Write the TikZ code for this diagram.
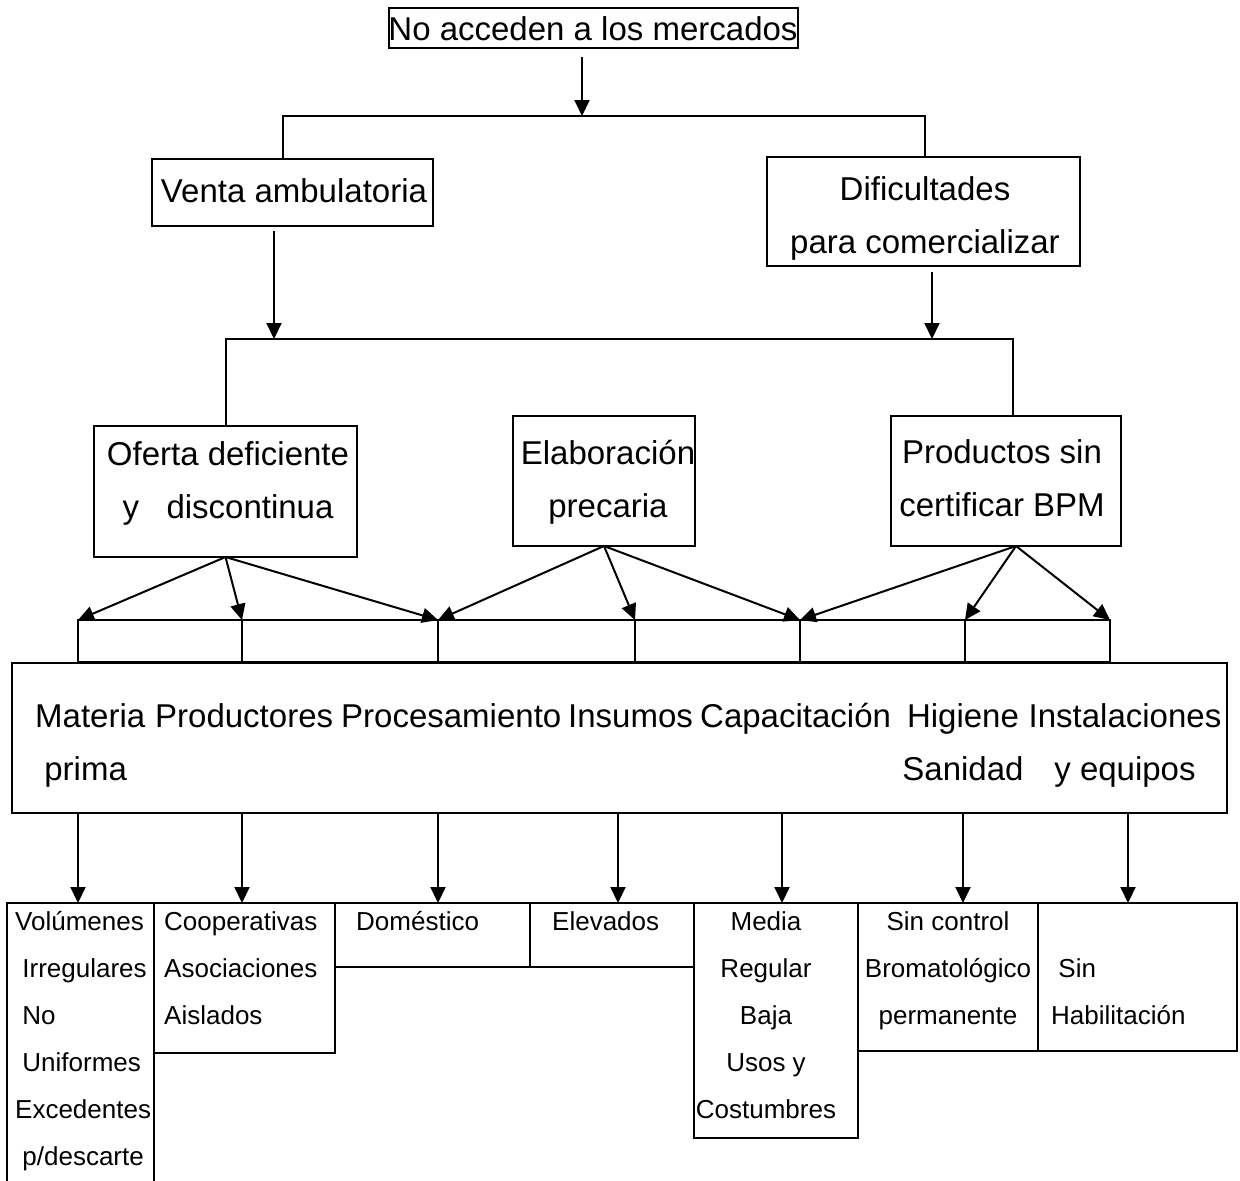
\documentclass[tikz,border=0pt]{standalone}
\usepackage{fontspec}
\setmainfont{Liberation Sans}
\usetikzlibrary{arrows.meta}

\tikzset{
  caja/.style={draw, line width=2.2pt, inner sep=0pt, outer sep=0pt, anchor=north west},
  texto/.style={font=\fontsize{33}{53}\selectfont, inner sep=0pt, anchor=base, align=center},
  textob/.style={font=\fontsize{26}{47}\selectfont, inner sep=0pt, anchor=base west, align=left},
  linea/.style={line width=2pt},
  flecha/.style={line width=2pt, -{Triangle[length=16pt,width=15pt]}}
}

\begin{document}
\begin{tikzpicture}[x=1pt,y=-1pt]
  \clip (0,0) rectangle (1240,1181);

  % cajas de arriba
  \node[caja, minimum width=409, minimum height=40] (top) at (389,8) {};
  \node[caja, minimum width=281, minimum height=67] (venta) at (152,159) {};
  \node[caja, minimum width=313, minimum height=109] (dific) at (767,157) {};
  \node[caja, minimum width=263, minimum height=131] (oferta) at (94,426) {};
  \node[caja, minimum width=182, minimum height=130] (elab) at (513,416) {};
  \node[caja, minimum width=230, minimum height=130] (prod) at (891,416) {};

  % (base = ultima linea)
  \node[texto] (topt) at (593,40) {No acceden a los mercados};
  \node[texto] (ventat) at (294,202) {Venta ambulatoria};
  \node[texto] (difict) at (925,253) {Dificultades\\para comercializar};
  \node[texto] (ofertat) at (228,518) {Oferta deficiente\\y \ \ discontinua};
  \node[texto] (elabt) at (608,517) {Elaboración\\precaria};
  \node[texto] (prodt) at (1002,516) {Productos sin\\certificar BPM};

  % primer nivel
  \coordinate (s1) at (582,116);
  \coordinate (b1l) at (283,116);
  \coordinate (b1r) at (925,116);
  \draw[flecha, shorten <=9pt] (top.south -| s1) -- (s1);
  \draw[linea] (venta.north -| b1l) -- (b1l) -- (b1r) -- (dific.north -| b1r);

  % segundo nivel
  \coordinate (s2) at (274,339);
  \coordinate (s3) at (932,339);
  \coordinate (b2l) at (226,339);
  \coordinate (b2r) at (1013,339);
  \draw[flecha, shorten <=5pt] (venta.south -| s2) -- (s2);
  \draw[flecha, shorten <=6pt] (dific.south -| s3) -- (s3);
  \draw[linea] (oferta.north -| b2l) -- (b2l) -- (b2r) -- (prod.north -| b2r);

  % celdas y caja de factores
  \foreach \a/\b [count=\i] in {78/242,242/438,438/635,635/800,800/965,965/1110}
    \node[caja, minimum width={(\b-\a)*1pt}, minimum height=42] (c\i) at (\a,620) {};
  \node[caja, minimum width=1215, minimum height=150] (factores) at (12,663) {};

  \foreach \n in {c1.north west, c1.north east, c2.north east}
    \draw[flecha] (oferta.south) -- (\n);
  \foreach \n in {c3.north west, c3.north east, c4.north east}
    \draw[flecha] (elab.south) -- (\n);
  \foreach \n in {c5.north west, c5.north east, c6.north east}
    \draw[flecha] ([xshift=10pt]prod.south) -- (\n);

  \node[texto, anchor=base west, align=left] (materia) at (35,780) {Materia\\\ prima};
  \node[texto, anchor=base west] (productores) at (155,727) {Productores};
  \node[texto, anchor=base west] (procesamiento) at (341,727) {Procesamiento};
  \node[texto, anchor=base west] (insumos) at (568,727) {Insumos};
  \node[texto, anchor=base west] (capacitacion) at (700,727) {Capacitación};
  \node[texto] (higiene) at (963,780) {Higiene\\Sanidad};
  \node[texto] (instalaciones) at (1125,780) {Instalaciones\\y equipos};

  % cajas de abajo
  \node[caja, minimum width=147, minimum height=300] (vol) at (7,903) {};
  \node[caja, minimum width=181, minimum height=150] (coop) at (154,903) {};
  \node[caja, minimum width=195, minimum height=64] (dom) at (335,903) {};
  \node[caja, minimum width=164, minimum height=64] (elev) at (530,903) {};
  \node[caja, minimum width=164, minimum height=235] (media) at (694,903) {};
  \node[caja, minimum width=180, minimum height=148] (brom) at (858,903) {};
  \node[caja, minimum width=199, minimum height=148] (habil) at (1038,903) {};

  \foreach \x/\n in {78/vol,242/coop,438/dom,618/elev,782/media,963/brom,1128/habil} {
    \coordinate (p) at (\x,0);
    \draw[flecha] (factores.south -| p) -- (\n.north -| p);
  }

  \node[textob] (volt) at (15,1165) {Volúmenes\\\ Irregulares\\\ No\\\ Uniformes\\Excedentes\\\ p/descarte};
  \node[textob] (coopt) at (164,1024) {Cooperativas\\Asociaciones\\Aislados};
  \node[textob] (domt) at (356,930) {Doméstico};
  \node[textob] (elevt) at (552,930) {Elevados};
  \node[textob, anchor=base, align=center] (mediat) at (766,1118) {Media\\Regular\\Baja\\Usos y\\Costumbres};
  \node[textob, anchor=base, align=center] (bromt) at (948,1024) {Sin control\\Bromatológico\\permanente};
  \node[textob] (habilt) at (1051,1024) {\ Sin\\Habilitación};
\end{tikzpicture}
\end{document}
